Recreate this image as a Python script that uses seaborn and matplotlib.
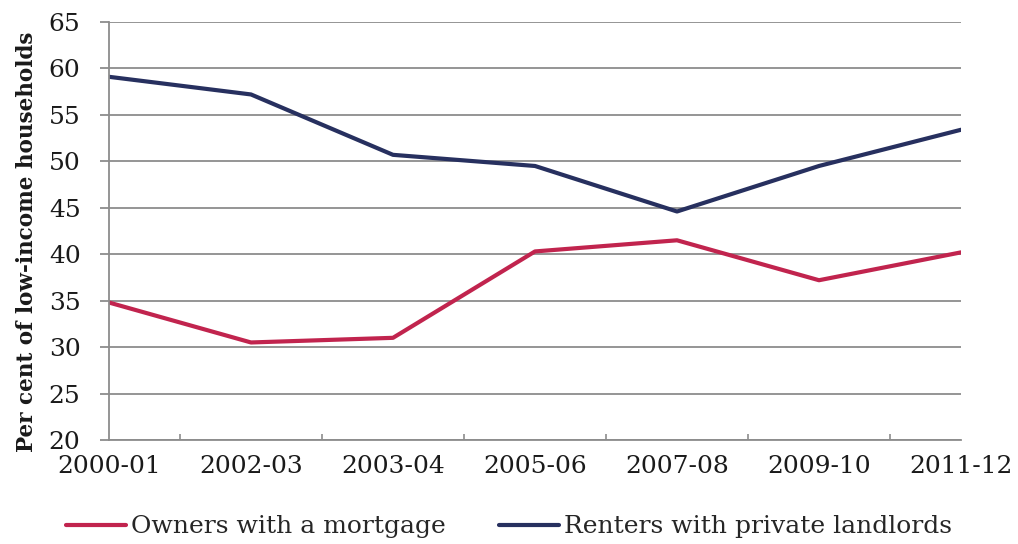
import matplotlib
matplotlib.use("Agg")
import matplotlib.pyplot as plt
import seaborn as sns
import pandas as pd
from matplotlib.ticker import FixedLocator

periods = ["2000-01", "2002-03", "2003-04", "2005-06", "2007-08", "2009-10", "2011-12"]
owners = [34.8, 30.5, 31.0, 40.3, 41.5, 37.2, 40.2]
renters = [59.1, 57.2, 50.7, 49.5, 44.6, 49.5, 53.4]
series_names = ["Owners with a mortgage", "Renters with private landlords"]
yticks = [20, 25, 30, 35, 40, 45, 50, 55, 60, 65]

sns.set_style("white")
plt.rcParams["font.family"] = ["DejaVu Serif"]

df = pd.DataFrame({
    "period": periods * 2,
    "value": owners + renters,
    "series": [series_names[0]] * len(periods) + [series_names[1]] * len(periods),
})

fig = plt.figure(figsize=(10.18, 5.44), dpi=100)
ax = fig.add_axes([109 / 1018, 1 - 440 / 544, (961 - 109) / 1018, (440 - 22) / 544])

sns.lineplot(data=df, x="period", y="value", hue="series", sort=False,
             palette=["#C1244E", "#27305F"], linewidth=3, ax=ax, legend=True)

ax.set_xlim(0, len(periods) - 1)
ax.set_ylim(20, 65)
ax.set_yticks(yticks)
ax.set_xticks(range(len(periods)))
ax.set_xticklabels(periods)
ax.xaxis.set_minor_locator(FixedLocator([i + 0.5 for i in range(len(periods) - 1)] + [len(periods) - 1]))
ax.tick_params(axis="x", which="major", bottom=True, length=0, labelsize=18, pad=11, colors="#1a1a1a")
ax.tick_params(axis="x", which="minor", bottom=True, length=4.5, direction="in", color="#8c8c8c", width=1.2)
ax.tick_params(axis="y", which="major", left=True, length=6.5, direction="out", color="#8c8c8c", width=1.3,
               labelsize=18, pad=14, labelcolor="#1a1a1a")
ax.grid(axis="y", color="#8c8c8c", linewidth=1.3)
ax.set_axisbelow(True)
for s in ["top", "right"]:
    ax.spines[s].set_visible(False)
for s in ["left", "bottom"]:
    ax.spines[s].set_color("#8c8c8c")
    ax.spines[s].set_linewidth(1.3)

ax.set_xlabel("")
ax.set_ylabel("Per cent of low-income households", fontsize=15.5, fontweight="bold",
              color="#1a1a1a")
ax.yaxis.set_label_coords(-0.083, 0.474)

handles, labels = ax.get_legend_handles_labels()
ax.get_legend().remove()
fig.legend(handles, labels, loc="center", bbox_to_anchor=(0.5, 1 - 527 / 544), ncol=2, frameon=False,
           fontsize=18, handlelength=2.4, handletextpad=0.2, columnspacing=2.1)

fig.savefig("out.png", dpi=100)
